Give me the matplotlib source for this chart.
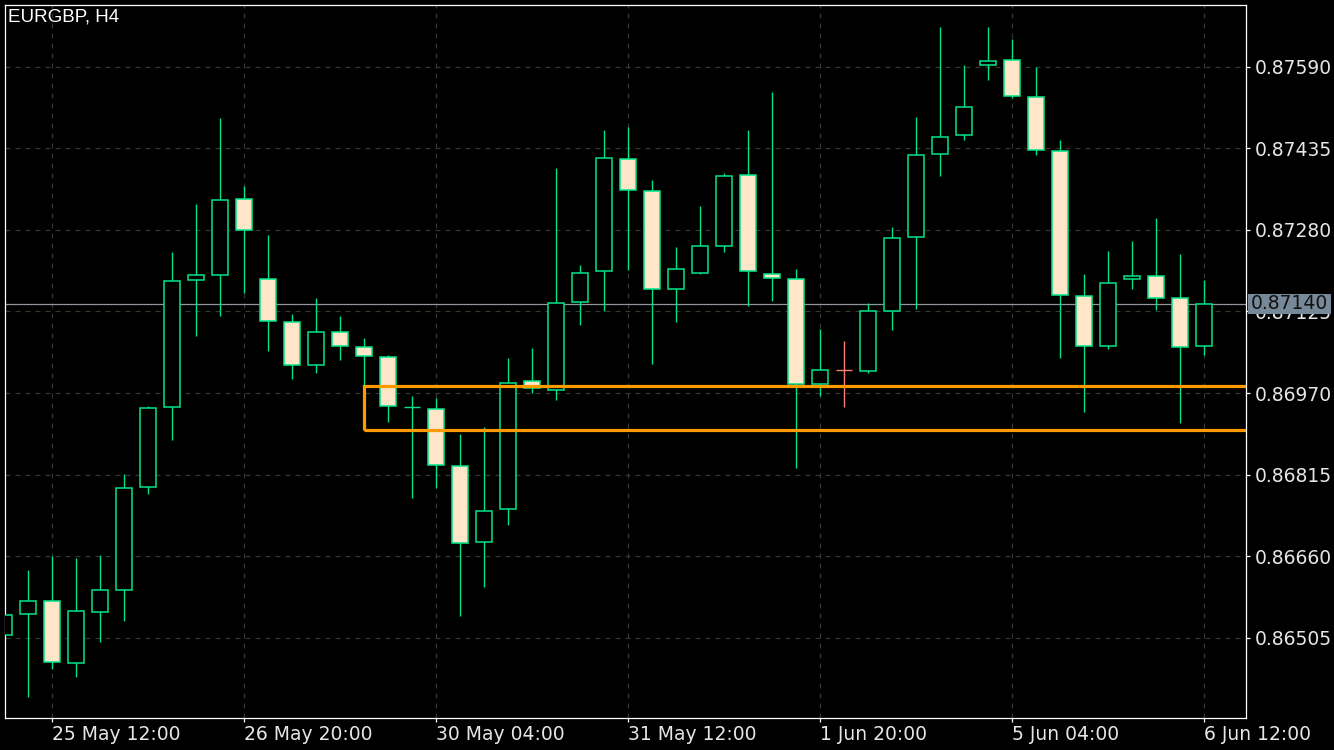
import numpy as np
import matplotlib
matplotlib.use("Agg")
import matplotlib.pyplot as plt
import matplotlib.transforms as mtransforms
from matplotlib.patches import Rectangle

# ----------------------------
# Data: EURGBP H4 candles
# ----------------------------
opens = [0.86510, 0.86551, 0.86575, 0.86458, 0.86555, 0.86596, 0.86792, 0.86943, 0.87184, 0.87194,
         0.87339, 0.87187, 0.87105, 0.87023, 0.87086, 0.87058, 0.87039, 0.86943, 0.86940, 0.86831,
         0.86688, 0.86749, 0.86993, 0.86975, 0.87143, 0.87201, 0.87414, 0.87353, 0.87168, 0.87199,
         0.87250, 0.87384, 0.87197, 0.87187, 0.86987, 0.87014, 0.87012, 0.87126, 0.87266, 0.87424,
         0.87460, 0.87593, 0.87603, 0.87533, 0.87430, 0.87154, 0.87059, 0.87187, 0.87193, 0.87151,
         0.87059]
highs = [0.86560, 0.86634, 0.86661, 0.86657, 0.86663, 0.86817, 0.86946, 0.87238, 0.87330, 0.87492,
         0.87363, 0.87270, 0.87121, 0.87150, 0.87117, 0.87075, 0.87043, 0.86965, 0.86961, 0.86893,
         0.86906, 0.87037, 0.87055, 0.87398, 0.87213, 0.87469, 0.87476, 0.87375, 0.87247, 0.87325,
         0.87388, 0.87469, 0.87541, 0.87205, 0.87091, 0.87068, 0.87142, 0.87285, 0.87495, 0.87665,
         0.87594, 0.87665, 0.87642, 0.87589, 0.87450, 0.87197, 0.87239, 0.87258, 0.87303, 0.87235,
         0.87184]
lows = [0.86495, 0.86392, 0.86447, 0.86430, 0.86497, 0.86537, 0.86779, 0.86881, 0.87078, 0.87116,
        0.87160, 0.87049, 0.86997, 0.87009, 0.87033, 0.86983, 0.86916, 0.86771, 0.86790, 0.86547,
        0.86602, 0.86720, 0.86971, 0.86957, 0.87099, 0.87126, 0.87204, 0.87025, 0.87105, 0.87197,
        0.87238, 0.87135, 0.87145, 0.86828, 0.86964, 0.86943, 0.87008, 0.87090, 0.87130, 0.87383,
        0.87451, 0.87565, 0.87531, 0.87422, 0.87036, 0.86935, 0.87053, 0.87168, 0.87127, 0.86914,
        0.87042]
closes = [0.86549, 0.86575, 0.86459, 0.86556, 0.86596, 0.86789, 0.86941, 0.87183, 0.87194, 0.87337,
          0.87280, 0.87107, 0.87023, 0.87086, 0.87060, 0.87040, 0.86945, 0.86943, 0.86833, 0.86686,
          0.86747, 0.86989, 0.86980, 0.87142, 0.87199, 0.87416, 0.87355, 0.87168, 0.87205, 0.87249,
          0.87382, 0.87201, 0.87189, 0.86987, 0.87014, 0.87014, 0.87125, 0.87264, 0.87422, 0.87456,
          0.87514, 0.87601, 0.87535, 0.87432, 0.87156, 0.87059, 0.87179, 0.87193, 0.87151, 0.87057,
          0.87140]

price_ticks = [0.86505, 0.86660, 0.86815, 0.86970, 0.87125, 0.87280, 0.87435, 0.87590]
date_tick_idx = [2, 10, 18, 26, 34, 42, 50]
date_labels = ["25 May 12:00", "26 May 20:00", "30 May 04:00", "31 May 12:00",
               "1 Jun 20:00", "5 Jun 04:00", "6 Jun 12:00"]

current_price = 0.87140
zone_start = 15
zone_low, zone_high = 0.86900, 0.86983

# ----------------------------
# Style
# ----------------------------
GREEN = "#00e588"
CREAM = "#ffe6c9"
SALMON = "#fa8072"
ORANGE = "#ff9900"
GRID = "#363636"
TEXT = "#e6e6e6"

o = np.array(opens)
h = np.array(highs)
l = np.array(lows)
c = np.array(closes)
x = np.arange(len(o))

fig = plt.figure(figsize=(13.34, 7.5), dpi=100, facecolor="black")
ax = fig.add_axes([5 / 1334, 32 / 750, 1241 / 1334, 713 / 750])
ax.set_facecolor("black")
ax.set_xlim(1 / 24, 1242 / 24)
ax.set_ylim(0.86353, 0.87707)

for s in ax.spines.values():
    s.set_color("white")
    s.set_linewidth(0.9)

# grid
ax.set_axisbelow(True)
ax.grid(True, color=GRID, linestyle=(0, (4, 4)), linewidth=0.9)

# current price line (behind candles)
ax.axhline(current_price, color="#8f969e", linewidth=0.9, zorder=1.5)

# wicks
doji = o == c
wick_colors = [SALMON if (d and i == 35) else GREEN for i, d in enumerate(doji)]
ax.vlines(x, l, h, colors=wick_colors, linewidth=1.0, zorder=2)

# bodies
body = ~doji
face = np.where(c < o, CREAM, "black")
ax.bar(x[body], np.abs(c - o)[body], bottom=np.minimum(o, c)[body], width=0.667,
       color=face[body], edgecolor=GREEN, linewidth=1.1, zorder=3)

# doji crosses
for i in x[doji]:
    ax.hlines(o[i], i - 0.333, i + 0.333, colors=wick_colors[i], linewidth=1.0, zorder=3)

# support zone
ax.add_patch(Rectangle((zone_start, zone_low), 60, zone_high - zone_low, fill=False,
                       edgecolor=ORANGE, linewidth=2.3, zorder=4))

# axes ticks
ax.yaxis.tick_right()
ax.set_yticks(price_ticks)
ax.set_yticklabels([f"{p:.5f}" for p in price_ticks])
ax.set_xticks(date_tick_idx)
ax.set_xticklabels(date_labels)
for lbl in ax.get_xticklabels():
    lbl.set_horizontalalignment("left")
ax.tick_params(axis="both", colors="white", labelcolor=TEXT, length=3, width=0.9,
               labelsize=13.5)
ax.tick_params(axis="y", pad=3)
ax.tick_params(axis="x", pad=2)

# current price tag
trans = mtransforms.blended_transform_factory(ax.transAxes, ax.transData)
ax.add_patch(Rectangle((1.0016, current_price - 0.00019), 0.0669, 0.00038, transform=trans,
                       facecolor="#778899", edgecolor="none", clip_on=False, zorder=5))
ax.text(1.035, current_price, f"{current_price:.5f}", transform=trans, ha="center",
        va="center", fontsize=13.5, color="#111111", zorder=6, clip_on=False)

fig.text(8 / 1334, 1 - 8.5 / 750, "EURGBP, H4", color="white", fontsize=13.5,
         family=["Liberation Sans", "DejaVu Sans"], va="top", ha="left")

fig.savefig("out.png", dpi=100, facecolor="black")
